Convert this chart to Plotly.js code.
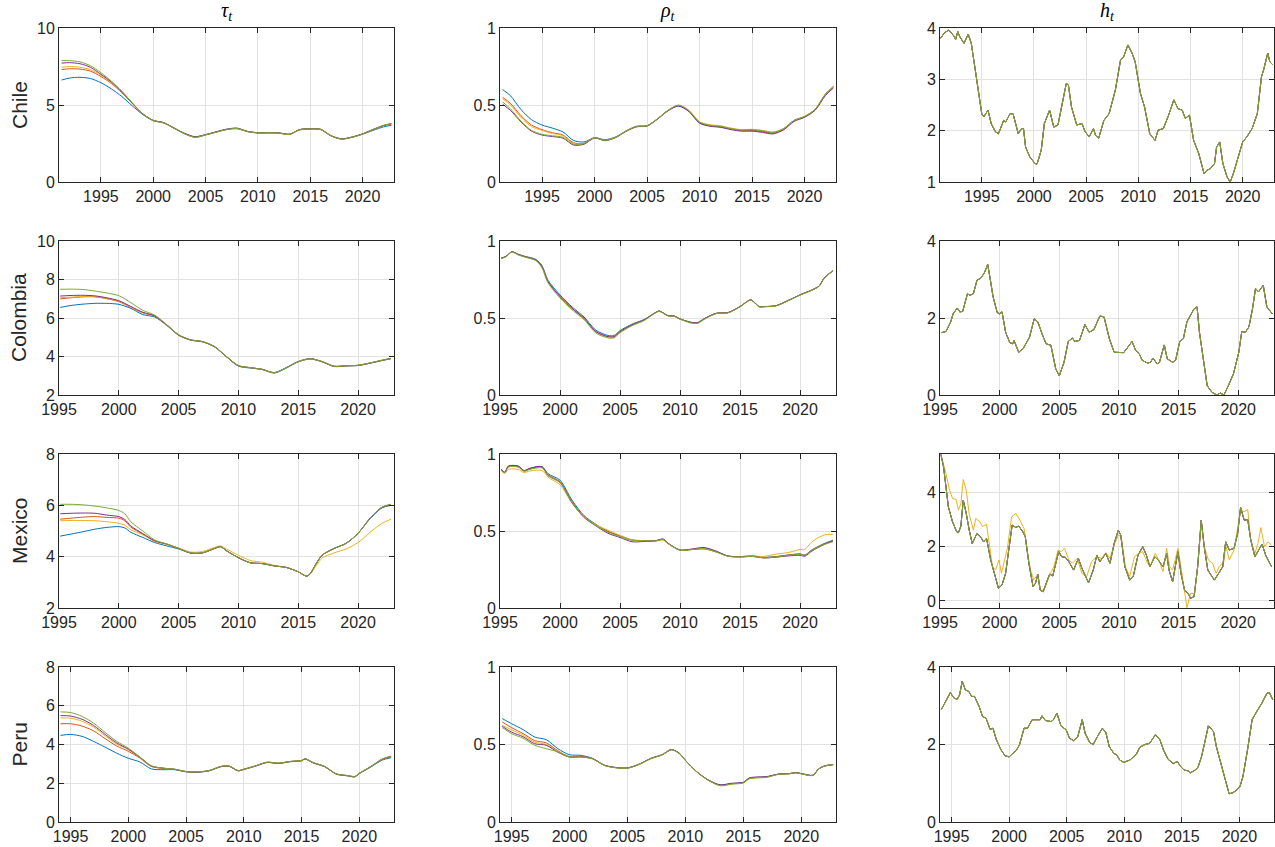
<!DOCTYPE html>
<html><head><meta charset="utf-8">
<script src="https://cdn.plot.ly/plotly-3.0.1.min.js"></script>
<style>html,body{margin:0;padding:0;background:#fff}#chart{width:1275px;height:847px}</style>
</head><body><div id="chart"></div>
<script>
// ---------- labels ----------
const seriesColors = ['#0072BD','#D95319','#EDB120','#7E2F8E','#77AC30'];
const countries = ['Chile','Colombia','Mexico','Peru'];
const columnTitles = ['<i>τ<sub>t</sub></i>','<i>ρ<sub>t</sub></i>','<i>h<sub>t</sub></i>'];
const yearTicks = [1995,2000,2005,2010,2015,2020];

// ---------- Chile ----------
const chileX = [1991.25,1992,1993,1994,1995,1996,1997,1998,1999,2000,2001,2002,2003,2004,2005,2006,2007,2008,2009,2010,2011,2012,2013,2014,2015,2016,2017,2018,2019,2020,2021,2022,2022.75];
const tauChileBlue   = [6.62,6.75,6.8,6.72,6.45,6.05,5.55,4.95,4.38,3.98,3.83,3.48,3.13,2.9,3.05,3.23,3.4,3.46,3.27,3.18,3.18,3.17,3.09,3.38,3.43,3.4,2.98,2.79,2.9,3.1,3.35,3.58,3.68];
const tauChileOrange = [7.3,7.35,7.33,7.2,6.85,6.4,5.8,5.1,4.42,4.0,3.85,3.5,3.15,2.93,3.07,3.25,3.42,3.48,3.28,3.2,3.2,3.18,3.1,3.4,3.45,3.42,3.0,2.8,2.92,3.12,3.4,3.65,3.76];
const tauChileYellow = [7.45,7.5,7.45,7.3,6.95,6.45,5.85,5.12,4.43,4.0,3.85,3.5,3.15,2.93,3.07,3.25,3.42,3.48,3.28,3.2,3.2,3.18,3.1,3.4,3.45,3.42,3.0,2.8,2.92,3.12,3.4,3.66,3.78];
const tauChilePurple = [7.72,7.75,7.68,7.45,7.0,6.5,5.85,5.12,4.43,4.0,3.86,3.5,3.16,2.94,3.08,3.26,3.43,3.5,3.29,3.2,3.21,3.19,3.1,3.41,3.46,3.42,3.0,2.8,2.92,3.13,3.41,3.67,3.79];
const tauChileGreen  = [7.88,7.88,7.8,7.55,7.1,6.55,5.9,5.15,4.43,4.0,3.84,3.49,3.13,2.9,3.06,3.24,3.41,3.48,3.28,3.19,3.2,3.18,3.09,3.4,3.45,3.41,2.99,2.78,2.91,3.12,3.42,3.68,3.8];

const rhoChileBlue   = [0.60,0.56,0.47,0.405,0.37,0.35,0.325,0.27,0.26,0.288,0.275,0.292,0.332,0.362,0.366,0.41,0.465,0.495,0.46,0.385,0.365,0.358,0.345,0.335,0.337,0.33,0.32,0.345,0.4,0.425,0.47,0.57,0.62];
const rhoChileOrange = [0.55,0.51,0.43,0.37,0.34,0.32,0.305,0.255,0.25,0.287,0.27,0.29,0.33,0.36,0.365,0.41,0.465,0.497,0.46,0.387,0.367,0.36,0.345,0.335,0.335,0.326,0.317,0.342,0.397,0.423,0.47,0.568,0.615];
const rhoChileYellow = [0.54,0.50,0.42,0.36,0.335,0.315,0.30,0.25,0.25,0.287,0.27,0.29,0.33,0.36,0.365,0.41,0.465,0.497,0.462,0.39,0.372,0.365,0.35,0.34,0.342,0.335,0.325,0.345,0.398,0.425,0.472,0.572,0.62];
const rhoChilePurple = [0.505,0.465,0.39,0.33,0.305,0.295,0.285,0.24,0.245,0.286,0.268,0.288,0.328,0.358,0.363,0.408,0.462,0.493,0.457,0.382,0.362,0.355,0.34,0.33,0.33,0.322,0.312,0.338,0.393,0.42,0.465,0.562,0.61];
const rhoChileGreen  = [0.52,0.475,0.395,0.335,0.31,0.30,0.29,0.245,0.25,0.287,0.27,0.29,0.33,0.36,0.365,0.41,0.465,0.5,0.465,0.39,0.368,0.362,0.347,0.338,0.34,0.333,0.322,0.347,0.4,0.426,0.472,0.572,0.62];

const hChileX = [1991.06,1991.4,1991.76,1991.86,1992.3,1992.5,1992.7,1992.9,1993.3,1993.7,1994.0,1994.3,1994.6,1995.0,1995.2,1995.6,1995.9,1996.3,1996.6,1997.1,1997.3,1997.7,1998.0,1998.5,1998.8,1999.0,1999.2,1999.6,2000.1,2000.3,2000.7,2001.0,2001.5,2001.9,2002.3,2002.8,2003.1,2003.3,2003.6,2004.1,2004.6,2004.9,2005.3,2005.7,2005.9,2006.2,2006.7,2007.2,2007.8,2008.3,2008.6,2009.0,2009.4,2009.7,2010.2,2010.6,2011.1,2011.6,2011.9,2012.4,2012.9,2013.4,2013.8,2014.2,2014.5,2014.9,2015.3,2015.8,2016.3,2016.6,2016.9,2017.3,2017.5,2017.8,2018.1,2018.5,2018.8,2019.1,2019.5,2020.0,2020.4,2020.9,2021.4,2021.8,2022.0,2022.4,2022.6,2022.9];
const hChile  = [3.80,3.90,3.95,3.96,3.85,3.78,3.93,3.83,3.70,3.88,3.70,3.31,2.86,2.33,2.27,2.40,2.14,1.98,1.94,2.20,2.17,2.33,2.33,1.94,2.04,2.04,1.68,1.49,1.36,1.35,1.62,2.14,2.40,2.07,2.11,2.60,2.92,2.89,2.46,2.11,2.14,1.98,1.88,2.04,1.91,1.85,2.20,2.33,2.79,3.38,3.44,3.67,3.51,3.34,2.73,2.46,1.94,1.81,2.01,2.04,2.30,2.60,2.43,2.40,2.24,2.30,1.81,1.55,1.16,1.23,1.26,1.36,1.68,1.78,1.36,1.10,1.00,1.16,1.42,1.78,1.88,2.04,2.33,3.05,3.18,3.51,3.34,3.28];

// ---------- Colombia ----------
const colTauX = [1995.1,1996,1997,1998,1999,2000,2001,2002,2003,2004,2005,2006,2007,2008,2009,2010,2011,2012,2013,2014,2015,2016,2017,2018,2019,2020,2021,2022,2022.75];
const tauColBlue   = [6.55,6.65,6.72,6.76,6.76,6.71,6.5,6.18,6.05,5.62,5.1,4.85,4.76,4.5,3.98,3.5,3.4,3.32,3.14,3.4,3.72,3.87,3.72,3.48,3.51,3.53,3.65,3.79,3.88];
const tauColOrange = [6.99,7.05,7.1,7.1,7.0,6.85,6.55,6.27,6.1,5.64,5.12,4.86,4.77,4.51,3.99,3.52,3.42,3.33,3.16,3.42,3.73,3.88,3.73,3.49,3.52,3.54,3.66,3.8,3.9];
const tauColYellow = [7.06,7.08,7.12,7.12,7.02,6.88,6.57,6.28,6.1,5.64,5.12,4.86,4.77,4.51,3.99,3.52,3.42,3.33,3.16,3.42,3.73,3.88,3.73,3.49,3.52,3.54,3.66,3.8,3.9];
const tauColPurple = [7.14,7.17,7.18,7.15,7.05,6.9,6.6,6.3,6.11,5.65,5.12,4.86,4.77,4.51,3.99,3.52,3.42,3.33,3.16,3.42,3.74,3.89,3.73,3.49,3.52,3.54,3.66,3.8,3.9];
const tauColGreen  = [7.49,7.5,7.48,7.4,7.3,7.16,6.8,6.4,6.15,5.66,5.13,4.87,4.78,4.52,4.0,3.53,3.42,3.33,3.15,3.43,3.74,3.89,3.74,3.5,3.52,3.55,3.67,3.81,3.91];

const rhoColX = [1995.1,1995.5,1996,1996.5,1997,1998,1998.5,1999,2000,2001,2002,2003,2004,2004.5,2005,2006,2007,2008,2008.3,2009,2009.5,2010,2011,2011.5,2012,2013,2014,2015,2015.9,2016.6,2017,2018,2019,2020,2021,2021.6,2022,2022.75];
const rhoColBlue  = [0.89,0.9,0.93,0.915,0.902,0.88,0.84,0.745,0.65,0.572,0.507,0.42,0.387,0.386,0.418,0.46,0.49,0.538,0.545,0.515,0.513,0.494,0.471,0.471,0.495,0.53,0.535,0.574,0.617,0.574,0.574,0.58,0.613,0.65,0.682,0.708,0.758,0.807];
const rhoColMid   = [0.887,0.9,0.93,0.913,0.9,0.876,0.833,0.736,0.64,0.563,0.498,0.411,0.379,0.379,0.411,0.455,0.487,0.537,0.545,0.515,0.513,0.494,0.47,0.47,0.494,0.53,0.535,0.574,0.617,0.574,0.574,0.58,0.613,0.65,0.682,0.708,0.758,0.807];
const rhoColGreen = [0.885,0.898,0.928,0.91,0.897,0.872,0.826,0.728,0.63,0.554,0.49,0.402,0.371,0.371,0.404,0.45,0.483,0.535,0.543,0.513,0.511,0.492,0.466,0.466,0.49,0.528,0.533,0.572,0.615,0.572,0.573,0.578,0.611,0.648,0.68,0.706,0.756,0.806];

const hColX = [1995.14,1995.5,1995.9,1996.1,1996.45,1996.65,1996.9,1997.3,1997.5,1997.8,1998.1,1998.4,1998.7,1999.0,1999.2,1999.45,1999.8,2000.0,2000.2,2000.5,2000.85,2001.1,2001.2,2001.6,2002.0,2002.5,2002.9,2003.2,2003.6,2003.9,2004.3,2004.7,2005.0,2005.4,2005.75,2006.1,2006.3,2006.7,2007.15,2007.5,2007.9,2008.4,2008.75,2009.2,2009.6,2010.0,2010.4,2011.1,2011.4,2011.7,2011.95,2012.4,2012.65,2012.85,2013.2,2013.4,2013.8,2014.05,2014.5,2014.75,2015.1,2015.4,2015.7,2016.3,2016.55,2016.75,2017.05,2017.4,2017.8,2018.2,2018.5,2018.8,2019.2,2019.6,2020.05,2020.3,2020.6,2020.9,2021.2,2021.45,2021.7,2022.1,2022.4,2022.85];
const hCol  = [1.62,1.65,1.90,2.11,2.26,2.16,2.17,2.63,2.59,2.63,2.98,3.03,3.16,3.39,3.03,2.55,2.14,2.11,2.16,1.63,1.36,1.33,1.42,1.11,1.22,1.50,1.98,1.90,1.55,1.33,1.29,0.68,0.50,0.85,1.39,1.48,1.39,1.42,1.83,1.63,1.70,2.05,2.03,1.46,1.11,1.10,1.10,1.39,1.16,1.07,0.90,0.83,0.85,0.96,0.81,0.85,1.30,0.94,0.85,0.90,1.39,1.46,1.90,2.24,2.29,1.63,0.94,0.24,0.07,0.0,0.05,0.0,0.26,0.55,1.11,1.65,1.63,1.77,2.24,2.77,2.68,2.85,2.29,2.11];

// ---------- Mexico ----------
const mexTauX = [1995.1,1996,1997,1998,1999,2000,2000.5,2001,2002,2003,2004,2005,2006,2007,2008,2008.5,2009,2010,2011,2012,2013,2014,2015,2015.7,2016,2016.5,2017,2018,2019,2020,2021,2022,2022.75];
const tauMexBlue   = [4.80,4.88,4.97,5.07,5.14,5.17,5.12,4.95,4.75,4.55,4.42,4.3,4.14,4.15,4.32,4.39,4.23,3.96,3.76,3.73,3.64,3.58,3.41,3.24,3.34,3.73,4.06,4.32,4.52,4.91,5.48,5.9,6.0];
const tauMexOrange = [5.46,5.5,5.54,5.56,5.53,5.5,5.4,5.15,4.88,4.6,4.49,4.32,4.15,4.15,4.32,4.39,4.23,3.96,3.76,3.73,3.64,3.58,3.41,3.24,3.34,3.73,4.06,4.32,4.52,4.91,5.5,5.92,6.02];
const tauMexYellow = [5.40,5.41,5.41,5.40,5.36,5.30,5.22,5.05,4.85,4.6,4.48,4.34,4.18,4.2,4.36,4.42,4.3,4.05,3.85,3.78,3.66,3.58,3.41,3.24,3.32,3.65,3.95,4.15,4.3,4.55,4.95,5.3,5.46];
const tauMexPurple = [5.67,5.69,5.7,5.69,5.62,5.56,5.45,5.2,4.9,4.62,4.49,4.32,4.14,4.15,4.32,4.39,4.23,3.96,3.76,3.73,3.64,3.58,3.41,3.24,3.34,3.73,4.06,4.32,4.52,4.91,5.5,5.93,6.04];
const tauMexGreen  = [6.04,6.04,6.02,5.97,5.9,5.8,5.67,5.36,5.0,4.65,4.5,4.32,4.15,4.15,4.32,4.39,4.23,3.96,3.76,3.73,3.64,3.58,3.41,3.24,3.34,3.73,4.06,4.32,4.52,4.91,5.5,5.93,6.04];

const mexRhoX = [1995.1,1995.4,1995.7,1996.5,1997,1997.5,1998.5,1999,2000,2001,2002,2003,2004,2005,2006,2007,2008,2008.6,2009,2010,2011,2012,2013,2014,2015,2016,2017,2018,2019,2020,2020.4,2021,2022,2022.75];
const rhoMexBlue   = [0.9,0.882,0.922,0.922,0.892,0.907,0.917,0.872,0.83,0.70,0.6,0.543,0.498,0.468,0.442,0.438,0.438,0.447,0.421,0.377,0.381,0.386,0.366,0.338,0.334,0.338,0.329,0.334,0.344,0.351,0.344,0.378,0.418,0.44];
const rhoMexOrange = [0.898,0.88,0.92,0.92,0.89,0.905,0.915,0.865,0.82,0.69,0.593,0.539,0.496,0.467,0.441,0.437,0.437,0.446,0.42,0.376,0.38,0.385,0.365,0.337,0.333,0.337,0.328,0.333,0.343,0.35,0.343,0.376,0.415,0.437];
const rhoMexYellow = [0.89,0.875,0.9,0.9,0.88,0.89,0.893,0.85,0.80,0.68,0.59,0.54,0.505,0.472,0.443,0.435,0.435,0.44,0.418,0.376,0.38,0.385,0.365,0.337,0.333,0.337,0.335,0.35,0.36,0.38,0.38,0.43,0.474,0.478];
const rhoMexPurple = [0.898,0.88,0.92,0.922,0.892,0.907,0.918,0.86,0.815,0.685,0.588,0.533,0.485,0.458,0.43,0.432,0.437,0.447,0.42,0.376,0.383,0.393,0.37,0.337,0.332,0.335,0.325,0.33,0.338,0.342,0.336,0.37,0.412,0.435];
const rhoMexGreen  = [0.895,0.878,0.915,0.915,0.888,0.9,0.91,0.86,0.815,0.685,0.59,0.536,0.492,0.464,0.44,0.436,0.436,0.445,0.419,0.375,0.379,0.384,0.364,0.336,0.331,0.335,0.326,0.331,0.341,0.348,0.342,0.374,0.412,0.43];

const hMexX = [1995.08,1995.3,1995.5,1995.7,1996.05,1996.4,1996.55,1996.75,1996.95,1997.2,1997.45,1997.7,1998.1,1998.4,1998.65,1998.9,1999.25,1999.6,1999.9,2000.2,2000.5,2000.8,2001.05,2001.35,2001.6,2001.95,2002.15,2002.45,2002.8,2003.0,2003.2,2003.4,2003.65,2004.0,2004.2,2004.45,2004.8,2004.95,2005.2,2005.5,2005.8,2006.2,2006.6,2006.9,2007.45,2007.85,2008.15,2008.4,2008.9,2009.25,2009.6,2009.95,2010.15,2010.5,2010.9,2011.2,2011.6,2012.0,2012.3,2012.6,2013.0,2013.3,2013.7,2014.0,2014.2,2014.5,2014.95,2015.2,2015.5,2015.8,2016.0,2016.3,2016.6,2016.9,2017.15,2017.45,2018.0,2018.4,2018.7,2018.95,2019.25,2019.65,2019.95,2020.2,2020.5,2020.8,2021.05,2021.4,2021.75,2022.0,2022.3,2022.6,2022.8];
const hMex  = [5.4,4.94,4.21,3.47,2.92,2.55,2.52,2.76,3.72,3.23,2.61,2.12,2.49,2.37,2.18,2.31,1.51,0.90,0.47,0.59,1.02,2.0,2.80,2.71,2.76,2.55,2.37,1.39,0.53,0.65,0.98,0.40,0.34,0.77,0.99,0.92,1.51,1.82,1.63,1.61,1.45,1.14,1.57,1.20,0.67,1.14,1.69,1.45,1.75,1.39,2.12,2.61,2.43,1.26,0.77,0.90,1.69,2.0,1.69,1.26,1.63,1.51,1.26,1.75,1.14,0.71,1.82,1.02,0.40,0.28,0.10,0.16,1.26,2.98,2.0,1.14,0.77,1.08,1.26,2.18,1.88,1.94,2.49,3.45,2.98,3.0,2.25,1.63,1.88,2.10,1.69,1.45,1.26];
const hMexYellowX = [1995.08,1995.5,1995.8,1996.05,1996.35,1996.55,1996.75,1996.95,1997.2,1997.45,1997.8,1998.0,1998.35,1998.55,1998.9,1999.1,1999.4,1999.65,1999.95,2000.15,2000.4,2000.65,2001.0,2001.35,2001.7,2002.05,2002.3,2002.6,2002.85,2003.15,2003.5,2003.85,2004.25,2004.55,2004.9,2005.15,2005.45,2005.8,2006.1,2006.5,2006.9,2007.3,2007.7,2008.15,2008.55,2008.9,2009.25,2009.65,2009.95,2010.2,2010.55,2010.9,2011.3,2011.65,2012.0,2012.4,2012.6,2013.05,2013.4,2013.7,2014.0,2014.25,2014.5,2014.95,2015.2,2015.5,2015.7,2016.0,2016.35,2016.6,2016.9,2017.15,2017.5,2017.85,2018.15,2018.4,2018.8,2018.95,2019.25,2019.65,2019.95,2020.2,2020.5,2020.8,2021.05,2021.4,2021.65,2021.9,2022.2,2022.5,2022.8];
const hMexYellow  = [5.4,4.7,4.09,3.78,3.74,3.35,3.60,4.48,4.09,3.2,2.61,3.04,2.92,2.74,2.83,2.25,1.26,1.14,1.51,1.02,1.45,1.94,3.1,3.23,2.98,2.67,1.88,1.14,0.77,0.96,0.34,0.53,1.02,1.26,1.88,1.82,1.94,1.51,1.39,1.57,1.02,0.90,1.45,1.63,1.57,1.78,1.57,2.12,2.43,2.37,1.26,0.9,1.63,1.75,1.82,1.39,1.26,1.75,1.45,1.08,1.94,1.26,1.14,1.94,1.26,0.28,-0.25,0.28,0.28,1.26,2.86,2.0,1.51,1.39,1.02,1.26,1.45,2.06,1.51,1.88,2.61,3.37,3.29,3.37,2.25,1.75,2.12,2.71,2.0,2.18,2.06];

// ---------- Peru ----------
const peruTauX = [1994.13,1995,1996,1997,1998,1999,2000,2001,2002,2003,2004,2005,2006,2007,2008,2008.7,2009.5,2010,2011,2012,2013,2014,2015,2015.3,2016,2017,2018,2019,2019.6,2020,2021,2022,2022.75];
const tauPeruBlue   = [4.47,4.52,4.42,4.16,3.86,3.55,3.29,3.1,2.74,2.70,2.7,2.59,2.57,2.64,2.85,2.88,2.64,2.71,2.88,3.07,3.02,3.11,3.16,3.25,3.05,2.85,2.47,2.38,2.33,2.5,2.84,3.2,3.32];
const tauPeruOrange = [5.07,5.07,4.95,4.7,4.3,3.92,3.65,3.3,2.86,2.77,2.72,2.6,2.58,2.65,2.86,2.89,2.65,2.72,2.89,3.08,3.03,3.12,3.17,3.26,3.06,2.86,2.48,2.39,2.34,2.51,2.86,3.24,3.37];
const tauPeruYellow = [5.37,5.36,5.2,4.9,4.45,4.02,3.74,3.33,2.88,2.77,2.72,2.6,2.58,2.65,2.86,2.89,2.65,2.72,2.89,3.08,3.03,3.12,3.17,3.26,3.06,2.86,2.48,2.39,2.34,2.51,2.86,3.24,3.38];
const tauPeruPurple = [5.49,5.47,5.3,4.98,4.52,4.08,3.76,3.34,2.89,2.78,2.72,2.6,2.58,2.65,2.86,2.89,2.65,2.72,2.89,3.08,3.03,3.12,3.17,3.26,3.06,2.86,2.48,2.39,2.34,2.51,2.86,3.25,3.38];
const tauPeruGreen  = [5.68,5.65,5.45,5.1,4.62,4.16,3.81,3.36,2.9,2.78,2.73,2.61,2.59,2.66,2.87,2.9,2.66,2.73,2.9,3.09,3.04,3.13,3.18,3.27,3.07,2.87,2.49,2.4,2.35,2.52,2.87,3.26,3.4];

const peruRhoX = [1994.2,1995,1996,1997,1998,1999,2000,2001,2002,2003,2004,2005,2006,2007,2008,2008.8,2009.5,2010,2011,2012,2013,2014,2015,2015.5,2016,2017,2018,2019,2019.5,2020,2021,2021.5,2022,2022.75];
const rhoPeruBlue   = [0.667,0.634,0.596,0.548,0.531,0.473,0.434,0.43,0.41,0.367,0.352,0.349,0.373,0.41,0.435,0.467,0.441,0.398,0.323,0.27,0.238,0.248,0.255,0.281,0.287,0.291,0.309,0.313,0.319,0.313,0.302,0.343,0.362,0.371];
const rhoPeruOrange = [0.645,0.609,0.57,0.525,0.51,0.46,0.422,0.424,0.409,0.366,0.351,0.348,0.372,0.409,0.434,0.467,0.441,0.398,0.323,0.269,0.237,0.247,0.254,0.28,0.286,0.29,0.308,0.312,0.318,0.312,0.301,0.342,0.361,0.37];
const rhoPeruYellow = [0.624,0.595,0.56,0.515,0.5,0.455,0.42,0.42,0.408,0.365,0.35,0.348,0.372,0.409,0.434,0.467,0.441,0.398,0.323,0.269,0.237,0.247,0.254,0.28,0.286,0.29,0.308,0.312,0.318,0.312,0.301,0.342,0.361,0.37];
const rhoPeruPurple = [0.617,0.58,0.55,0.505,0.495,0.45,0.419,0.42,0.408,0.366,0.351,0.348,0.372,0.409,0.434,0.468,0.443,0.398,0.323,0.27,0.24,0.25,0.256,0.284,0.29,0.293,0.308,0.312,0.318,0.312,0.301,0.342,0.361,0.37];
const rhoPeruGreen  = [0.609,0.57,0.54,0.495,0.473,0.452,0.419,0.42,0.407,0.365,0.35,0.347,0.371,0.408,0.433,0.466,0.44,0.397,0.322,0.268,0.234,0.244,0.252,0.278,0.284,0.288,0.307,0.311,0.317,0.311,0.3,0.341,0.36,0.37];

const hPeruX = [1994.13,1994.48,1994.77,1994.9,1995.2,1995.5,1995.7,1995.93,1996.2,1996.5,1996.75,1997.0,1997.4,1997.7,1998.0,1998.35,1998.6,1998.9,1999.3,1999.65,2000.0,2000.3,2000.65,2000.9,2001.3,2001.6,2002.0,2002.5,2002.7,2002.85,2003.15,2003.65,2003.85,2004.15,2004.5,2004.95,2005.25,2005.6,2005.95,2006.35,2006.6,2007.0,2007.3,2007.7,2008.1,2008.4,2008.7,2009.1,2009.35,2009.6,2009.95,2010.5,2011.05,2011.35,2011.8,2012.2,2012.7,2013.1,2013.4,2013.8,2014.25,2014.6,2014.9,2015.2,2015.55,2015.75,2016.15,2016.4,2016.7,2017.0,2017.3,2017.5,2017.75,2018.0,2018.45,2018.85,2019.1,2019.4,2019.75,2020.05,2020.3,2020.7,2021.1,2021.5,2021.95,2022.4,2022.6,2022.9];
const hPeru  = [2.91,3.11,3.28,3.34,3.20,3.17,3.28,3.63,3.41,3.37,3.24,3.24,2.98,2.72,2.68,2.39,2.42,2.12,1.86,1.71,1.68,1.77,1.86,1.99,2.42,2.42,2.64,2.64,2.64,2.74,2.62,2.59,2.64,2.81,2.48,2.38,2.16,2.10,2.19,2.64,2.29,2.05,2.0,2.22,2.42,2.31,1.94,1.77,1.73,1.60,1.54,1.60,1.75,1.93,2.0,2.03,2.25,2.12,1.86,1.62,1.51,1.56,1.43,1.34,1.32,1.27,1.34,1.41,1.68,2.07,2.48,2.42,2.33,1.94,1.47,0.99,0.73,0.75,0.82,0.92,1.17,1.86,2.64,2.85,3.07,3.33,3.34,3.15];

// ---------- axis ranges / ticks ----------
const xRanges = [[1991,2023],[1995,2023],[1995,2023],[1994,2023]];
const yRanges = [
  [[0,10],[0,1],[1,4]],
  [[2,10],[0,1],[0,4]],
  [[2,8],[0,1],[-0.26,5.42]],
  [[0,8],[0,1],[0,4]]
];
const yTicks = [
  [[0,5,10],[0,0.5,1],[1,2,3,4]],
  [[2,4,6,8,10],[0,0.5,1],[0,2,4]],
  [[2,4,6,8],[0,0.5,1],[0,2,4]],
  [[0,2,4,6,8],[0,0.5,1],[0,2,4]]
];

function S(x, y){ return {x:x, y:y}; }
const panelSeries = [
  [
    [S(chileX,tauChileBlue),S(chileX,tauChileOrange),S(chileX,tauChileYellow),S(chileX,tauChilePurple),S(chileX,tauChileGreen)],
    [S(chileX,rhoChileBlue),S(chileX,rhoChileOrange),S(chileX,rhoChileYellow),S(chileX,rhoChilePurple),S(chileX,rhoChileGreen)],
    [S(hChileX,hChile),S(hChileX,hChile),S(hChileX,hChile),S(hChileX,hChile),S(hChileX,hChile)]
  ],
  [
    [S(colTauX,tauColBlue),S(colTauX,tauColOrange),S(colTauX,tauColYellow),S(colTauX,tauColPurple),S(colTauX,tauColGreen)],
    [S(rhoColX,rhoColBlue),S(rhoColX,rhoColMid),S(rhoColX,rhoColMid),S(rhoColX,rhoColMid),S(rhoColX,rhoColGreen)],
    [S(hColX,hCol),S(hColX,hCol),S(hColX,hCol),S(hColX,hCol),S(hColX,hCol)]
  ],
  [
    [S(mexTauX,tauMexBlue),S(mexTauX,tauMexOrange),S(mexTauX,tauMexYellow),S(mexTauX,tauMexPurple),S(mexTauX,tauMexGreen)],
    [S(mexRhoX,rhoMexBlue),S(mexRhoX,rhoMexOrange),S(mexRhoX,rhoMexYellow),S(mexRhoX,rhoMexPurple),S(mexRhoX,rhoMexGreen)],
    [S(hMexX,hMex),S(hMexX,hMex),S(hMexYellowX,hMexYellow),S(hMexX,hMex),S(hMexX,hMex)]
  ],
  [
    [S(peruTauX,tauPeruBlue),S(peruTauX,tauPeruOrange),S(peruTauX,tauPeruYellow),S(peruTauX,tauPeruPurple),S(peruTauX,tauPeruGreen)],
    [S(peruRhoX,rhoPeruBlue),S(peruRhoX,rhoPeruOrange),S(peruRhoX,rhoPeruYellow),S(peruRhoX,rhoPeruPurple),S(peruRhoX,rhoPeruGreen)],
    [S(hPeruX,hPeru),S(hPeruX,hPeru),S(hPeruX,hPeru),S(hPeruX,hPeru),S(hPeruX,hPeru)]
  ]
];

// ---------- layout geometry ----------
const W = 1275, H = 847;
const colPx = [[59,394],[500,836],[940,1274]];
const rowPx = [[28,182],[241,395],[454,608],[667,822]];
const tickFont = {family:'"Liberation Sans", Arial, Helvetica, sans-serif', size:16, color:'#262626'};

const traces = [];
const layout = {
  width: W, height: H,
  margin: {l:0, r:0, t:0, b:0},
  paper_bgcolor: '#ffffff', plot_bgcolor: '#ffffff',
  showlegend: false,
  annotations: []
};

let n = 0;
for (let r = 0; r < 4; r++) {
  for (let c = 0; c < 3; c++) {
    n++;
    const sfx = n === 1 ? '' : String(n);
    const xa = 'x' + sfx, ya = 'y' + sfx;
    panelSeries[r][c].forEach((s, k) => {
      traces.push({
        type: 'scatter', mode: 'lines', x: s.x, y: s.y,
        xaxis: xa, yaxis: ya, hoverinfo: 'skip',
        line: {color: seriesColors[k], width: 1, shape: c === 2 ? 'linear' : 'spline', smoothing: 0.8}
      });
    });
    const common = {
      showline: true, linecolor: '#262626', linewidth: 1, mirror: 'ticks',
      ticks: 'inside', ticklen: 5, tickwidth: 1, tickcolor: '#262626',
      showgrid: true, gridcolor: '#e2e2e2', gridwidth: 1, zeroline: false,
      tickfont: tickFont, fixedrange: true
    };
    layout['xaxis' + sfx] = Object.assign({}, common, {
      domain: [colPx[c][0] / W, colPx[c][1] / W],
      range: xRanges[r], tickmode: 'array', tickvals: yearTicks,
      ticktext: yearTicks.map(String), anchor: ya
    });
    layout['yaxis' + sfx] = Object.assign({}, common, {
      domain: [1 - rowPx[r][1] / H, 1 - rowPx[r][0] / H],
      range: yRanges[r][c], tickmode: 'array', tickvals: yTicks[r][c],
      anchor: xa
    });
  }
}

columnTitles.forEach((t, c) => {
  layout.annotations.push({
    text: t, xref: 'paper', yref: 'paper',
    x: (colPx[c][0] + colPx[c][1]) / 2 / W, y: 1 - 12 / H,
    xanchor: 'center', yanchor: 'middle', showarrow: false,
    font: {family: '"Liberation Serif", "DejaVu Serif", serif', size: 20, color: '#000000'}
  });
});
countries.forEach((name, r) => {
  layout.annotations.push({
    text: name, xref: 'paper', yref: 'paper',
    x: 19 / W, y: 1 - (rowPx[r][0] + rowPx[r][1]) / 2 / H,
    xanchor: 'center', yanchor: 'middle', showarrow: false, textangle: -90,
    font: {family: '"Liberation Sans", Arial, Helvetica, sans-serif', size: 21, color: '#262626'}
  });
});

Plotly.newPlot('chart', traces, layout, {displayModeBar: false, staticPlot: true});
</script>
</body></html>
